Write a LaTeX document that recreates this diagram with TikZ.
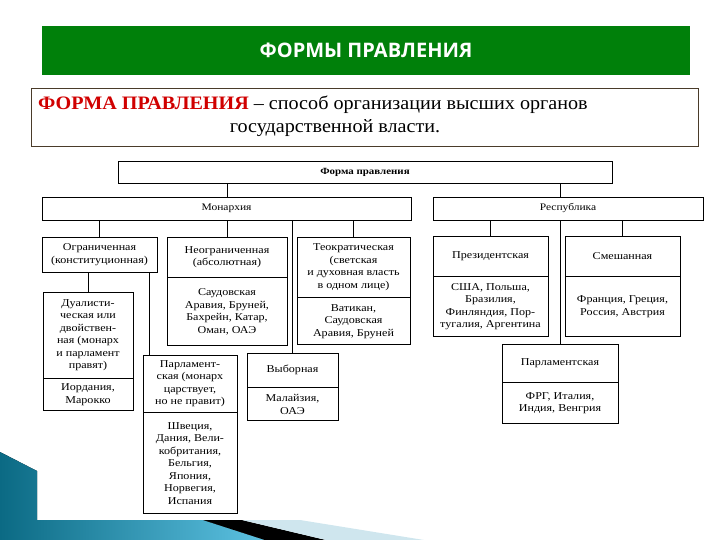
\documentclass[tikz,border=0pt]{standalone}
\usepackage{fontspec}
\setmainfont{Liberation Serif}
\newfontfamily\chartfont[FakeStretch=1.15]{Liberation Serif}
\newfontfamily\deffont[FakeStretch=1.06]{Liberation Serif}
\newfontfamily\headfont{Open Sans}
\usetikzlibrary{positioning,calc}
\definecolor{bannergreen}{HTML}{00800A}
\definecolor{defred}{HTML}{D00000}
\definecolor{defborder}{HTML}{4A3B2A}
\definecolor{tealdark}{HTML}{0B6A84}
\definecolor{teallight}{HTML}{5DC2E2}
\definecolor{paleblue}{HTML}{CFE6EE}
\newcommand{\boxfont}{\chartfont\fontsize{10.5}{12.5}\selectfont}

\begin{document}
\begin{tikzpicture}[x=1pt,y=-1pt,
  unit/.style={draw, line width=0.8pt, inner sep=1pt, align=center,
               font=\boxfont},
  under/.style={unit, below=0pt of #1},
  link/.style={line width=0.8pt},
]
\useasboundingbox (0,0) rectangle (720,540);

% bottom left corner decoration
\fill[left color=tealdark, right color=teallight]
  (0,452) -- (37,471) -- (37,520) -- (203,520) -- (265,540) -- (0,540) -- cycle;
\fill[black] (203,520) -- (242,520) -- (326,540) -- (265,540) -- cycle;
\fill[paleblue] (242,520) -- (300,520) -- (424,540) -- (326,540) -- cycle;

% header
\node[fill=bannergreen, minimum width=648pt, minimum height=49pt,
      text=white, font=\headfont\bfseries\fontsize{20}{22}\selectfont]
  (banner) at (366,50.5) {ФОРМЫ ПРАВЛЕНИЯ};
\node[draw=defborder, line width=0.6pt, minimum width=667pt,
      minimum height=58pt] (defn) at (364.5,117) {};
\node[anchor=base west, inner sep=0pt, font=\deffont\fontsize{19}{23}\selectfont]
  (defa) at (38,110)
  {\textcolor{defred}{\textbf{ФОРМА ПРАВЛЕНИЯ}} – способ организации высших органов};
\node[anchor=base, inner sep=0pt, font=\deffont\fontsize{19}{23}\selectfont]
  (defb) at (335,133) {государственной власти.};

% chart
\node[unit, font=\chartfont\bfseries\fontsize{9.5}{11}\selectfont,
      minimum width=494pt, minimum height=22pt] (form) at (365,172) {Форма правления};
\node[unit, font=\chartfont\fontsize{10}{11}\selectfont,
      minimum width=369pt, minimum height=23pt] (mon) at (226.5,208.5) {Монархия};
\node[unit, font=\chartfont\fontsize{10}{11}\selectfont,
      minimum width=270pt, minimum height=23pt] (rep) at (568,208.5) {Республика};

\node[unit, minimum width=115pt, minimum height=35pt] (ogr) at (99.5,254.5)
  {Ограниченная\\(конституционная)};
\node[unit, minimum width=120pt, minimum height=40pt] (neogr) at (227,257)
  {Неограниченная\\(абсолютная)};
\node[under=neogr, minimum width=120pt, minimum height=68pt] (neogrL)
  {Саудовская\\Аравия, Бруней,\\Бахрейн, Катар,\\Оман, ОАЭ};
\node[unit, minimum width=113pt, minimum height=60pt] (teo) at (353.5,267)
  {Теократическая\\(светская\\и духовная власть\\в одном лице)};
\node[under=teo, minimum width=113pt, minimum height=47pt] (teoL)
  {Ватикан,\\Саудовская\\Аравия, Бруней};
\node[unit, minimum width=115pt, minimum height=40pt] (pres) at (490.5,256)
  {Президентская};
\node[under=pres, minimum width=115pt, minimum height=60pt] (presL)
  {США, Польша,\\Бразилия,\\Финляндия, Пор-\\тугалия, Аргентина};
\node[unit, minimum width=115pt, minimum height=40pt] (smesh) at (622.5,256)
  {Смешанная};
\node[under=smesh, minimum width=115pt, minimum height=60pt] (smeshL)
  {Франция, Греция,\\Россия, Австрия};

\node[unit, minimum width=90pt, minimum height=86pt] (dual) at (88,335)
  {Дуалисти-\\ческая или\\двойствен-\\ная (монарх\\и парламент\\правят)};
\node[under=dual, minimum width=90pt, minimum height=32pt] (dualL)
  {Иордания,\\Марокко};
\node[unit, minimum width=94pt, minimum height=57pt] (parlM) at (190,383.5)
  {Парламент-\\ская (монарх\\царствует,\\но не правит)};
\node[under=parlM, minimum width=94pt, minimum height=101pt] (parlML)
  {Швеция,\\Дания, Вели-\\кобритания,\\Бельгия,\\Япония,\\Норвегия,\\Испания};
\node[unit, minimum width=91pt, minimum height=34pt] (vyb) at (292.5,370)
  {Выборная};
\node[under=vyb, minimum width=91pt, minimum height=33pt] (vybL)
  {Малайзия,\\ОАЭ};
\node[unit, minimum width=116pt, minimum height=38pt] (parlR) at (560,363)
  {Парламентская};
\node[under=parlR, minimum width=116pt, minimum height=41pt] (parlRL)
  {ФРГ, Италия,\\Индия, Венгрия};

% connectors
\coordinate (pmTop) at ([xshift=7pt]parlM.north west);
\draw[link] (form.south -| neogr.north) -- (mon.north -| neogr.north);
\draw[link] (form.south -| parlR.north) -- (rep.north -| parlR.north);
\draw[link] (mon.south -| ogr.north) -- (ogr.north);
\draw[link] (mon.south -| neogr.north) -- (neogr.north);
\draw[link] (mon.south -| teo.north) -- (teo.north);
\draw[link] (mon.south -| vyb.north) -- (vyb.north);
\draw[link] (ogr.south -| dual.north) -- (dual.north);
\draw[link] (ogr.south -| pmTop) -- (pmTop);
\draw[link] (rep.south -| pres.north) -- (pres.north);
\draw[link] (rep.south -| smesh.north) -- (smesh.north);
\draw[link] (rep.south -| parlR.north) -- (parlR.north);
\end{tikzpicture}
\end{document}
